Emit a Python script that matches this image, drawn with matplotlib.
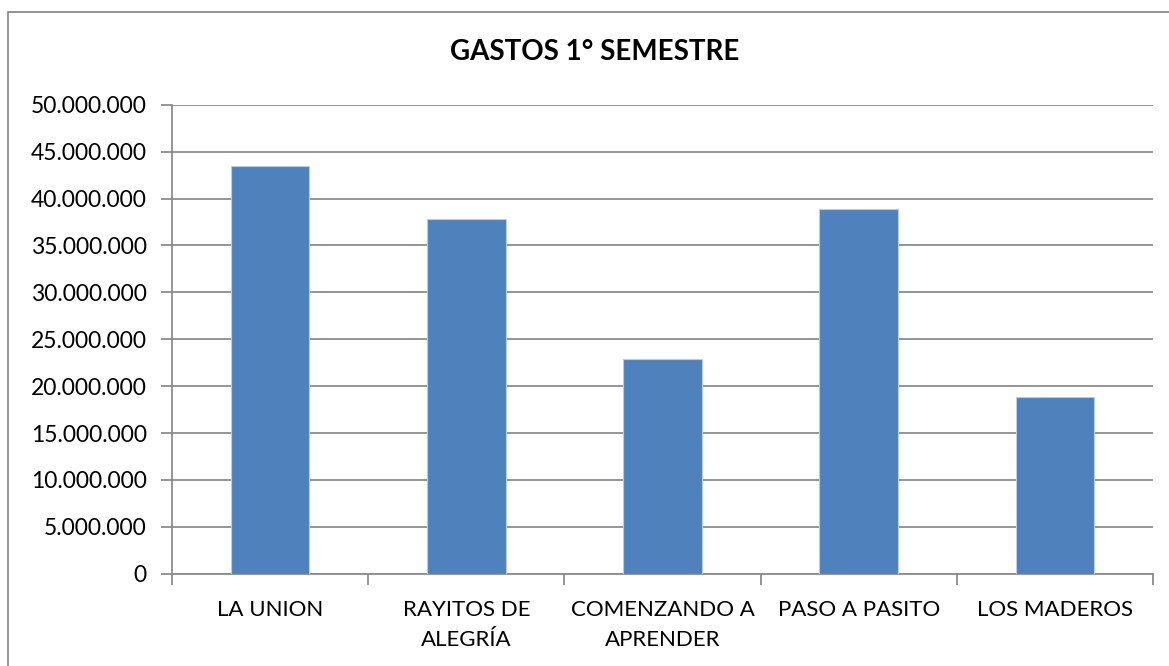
import matplotlib
matplotlib.use("Agg")
from matplotlib import pyplot as plt
from matplotlib.patches import Rectangle
from matplotlib.ticker import FuncFormatter, FixedLocator
import numpy as np

# datos del grafico
jardines = ["LA UNION", "RAYITOS DE\nALEGRÍA", "COMENZANDO A\nAPRENDER", "PASO A PASITO", "LOS MADEROS"]
gastos = [43500000, 37800000, 22900000, 38900000, 18800000]
titulo = "GASTOS 1° SEMESTRE"

plt.rcParams["font.family"] = ["Lato", "DejaVu Sans"]

fig = plt.figure(figsize=(11.69, 6.66), dpi=100)
ax = fig.add_axes([172 / 1169, 1 - 573.7 / 666, (1153 - 172) / 1169, (573.7 - 104.7) / 666])

x = np.arange(len(jardines))
ax.bar(x, gastos, width=0.4, color="#4F81BD", edgecolor="#b9cde5", linewidth=0.8, zorder=3)

ax.set_xlim(-0.5, len(jardines) - 0.5)
ax.set_ylim(0, 50000000)
ax.set_yticks(np.arange(0, 50000001, 5000000))
ax.yaxis.set_major_formatter(FuncFormatter(lambda v, p: f"{int(v):,}".replace(",", ".")))
ax.grid(axis="y", color="#8c8c8c", linewidth=1.3, zorder=0)

# ticks del eje x en los limites de categoria, etiquetas centradas
ax.xaxis.set_major_locator(FixedLocator(np.arange(-0.5, len(jardines), 1.0)))
ax.set_xticklabels([])
ax.set_xticks(x, minor=True)
ax.set_xticklabels(jardines, minor=True, fontsize=16, linespacing=1.6)
ax.tick_params(axis="x", which="minor", length=0, pad=19)
ax.tick_params(axis="x", which="major", length=8, width=1.3, color="#8c8c8c")
ax.tick_params(axis="y", length=8, width=1.3, color="#8c8c8c", labelsize=16.5, pad=10)

for s in ["top", "right"]:
    ax.spines[s].set_visible(False)
for s in ["left", "bottom"]:
    ax.spines[s].set_color("#8c8c8c")
    ax.spines[s].set_linewidth(1.3)

fig.text(595 / 1169, 1 - 52 / 666, titulo, ha="center", va="center", fontsize=20, fontweight="bold")

# borde del area del grafico
borde = Rectangle((8 / 1169, -0.1), 1.2, 1 - 12 / 666 + 0.1, transform=fig.transFigure,
                  fill=False, edgecolor="#8c8c8c", linewidth=1.3, clip_on=False)
fig.patches.append(borde)

fig.savefig("out.png", dpi=100)
